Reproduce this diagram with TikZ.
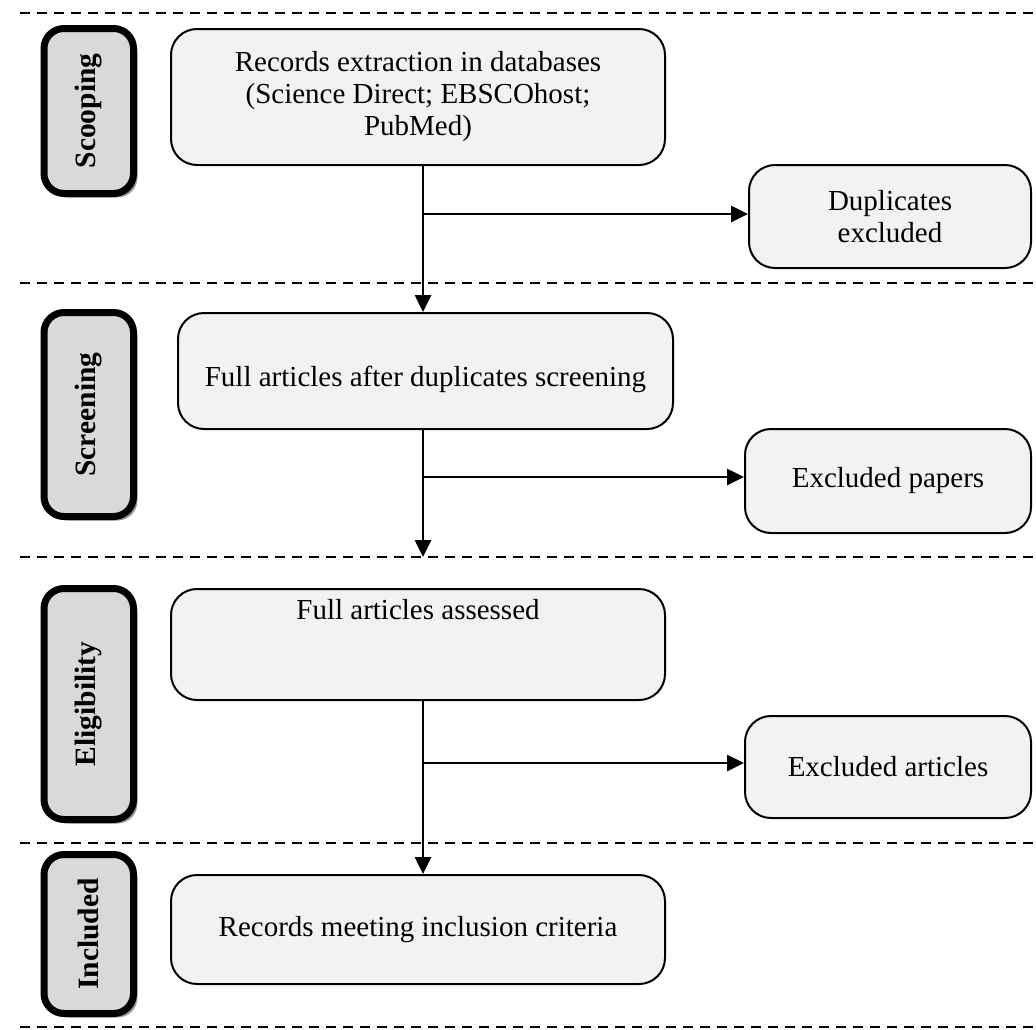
\documentclass[tikz,border=0pt]{standalone}
\usepackage{fontspec}
\setmainfont{Liberation Serif}
\usepackage{graphicx}
\usetikzlibrary{shadows,arrows.meta}
\definecolor{boxfill}{HTML}{F2F2F2}
\definecolor{labfill}{HTML}{D9D9D9}
\begin{document}
\begin{tikzpicture}[x=1pt,y=-1pt,
  mainbox/.style={draw=black, line width=2pt, fill=boxfill, rounded corners=26pt, align=center, inner sep=0pt, font=\fontsize{29}{32}\selectfont},
  labbox/.style={draw=black, line width=7pt, fill=labfill, rounded corners=20pt, inner sep=0pt, minimum width=89.5pt,
     drop shadow={shadow xshift=4pt, shadow yshift=-4pt, fill=black!40, opacity=1},
     font=\fontsize{29.5}{32}\selectfont\bfseries},
  txt/.style={font=\fontsize{29}{32}\selectfont, inner sep=0pt, align=center},
  sep/.style={line width=1.6pt, dash pattern=on 10pt off 7pt},
  arr/.style={line width=2.6pt, -{Triangle[length=17pt,width=16pt]}}
]
\useasboundingbox (0,0) rectangle (1036,1029);
% separators
\draw[sep] (20,13) -- (1036,13);
\draw[sep] (20,283) -- (1036,283);
\draw[sep] (20,557) -- (1036,557);
\draw[sep] (20,843) -- (1036,843);
\draw[sep] (20,1027) -- (1036,1027);
% stage labels
\node[labbox, minimum height=165pt] (lsc) at (88.75,111) {\rotatebox{90}{Scooping}};
\node[labbox, minimum height=204pt] (lsr) at (88.75,414.5) {\rotatebox{90}{Screening}};
\node[labbox, minimum height=231pt] (lel) at (88.75,704) {\rotatebox{90}{Eligibility}};
\node[labbox, minimum height=159pt] (lin) at (88.75,934) {\rotatebox{90}{Included}};
% main boxes
\node[mainbox, minimum width=494pt, minimum height=136pt] (b1) at (418,97)
  {Records extraction in databases\\(Science Direct; EBSCOhost;\\PubMed)};
\node[mainbox, minimum width=282pt, minimum height=103pt] (dup) at (890,216.5) {Duplicates\\excluded};
\node[mainbox, minimum width=495pt, minimum height=116pt] (b2) at (425.5,371) {};
\node[txt] (t2) at (425.5,379) {Full articles after duplicates screening};
\node[mainbox, minimum width=286pt, minimum height=104pt] (ep) at (888,481) {Excluded papers};
\node[mainbox, minimum width=494pt, minimum height=111pt] (b3) at (418,644.5) {};
\node[txt] (t3) at (418,610) {Full articles assessed};
\node[mainbox, minimum width=286pt, minimum height=102pt] (ea) at (888,767) {Excluded articles};
\node[mainbox, minimum width=494pt, minimum height=109pt] (b4) at (418,929.5) {Records meeting inclusion criteria};
% connector coordinates
\coordinate (vx) at (423,0);
\coordinate (j1) at (423,214);
\coordinate (j2) at (423,477);
\coordinate (e2) at (423,557);
\coordinate (j3) at (423,763);
% connectors
\draw[arr] (b1.south -| vx) -- (b2.north -| vx);
\draw[arr] (j1) -- (j1 -| dup.west);
\draw[arr] (b2.south -| vx) -- (e2);
\draw[arr] (j2) -- (j2 -| ep.west);
\draw[arr] (b3.south -| vx) -- (b4.north -| vx);
\draw[arr] (j3) -- (j3 -| ea.west);
\end{tikzpicture}
\end{document}
